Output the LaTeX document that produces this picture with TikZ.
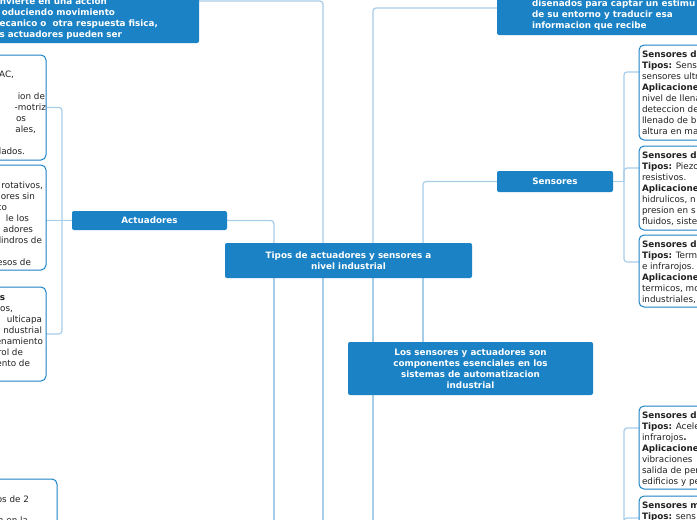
\documentclass[tikz,border=0pt]{standalone}
\usepackage{fontspec}
\setmainfont{DejaVu Sans}
\usetikzlibrary{backgrounds}
\definecolor{mmblue}{HTML}{1B82C6}
\definecolor{mmline}{HTML}{A7CDE9}
\definecolor{txt}{HTML}{222222}
\newcommand\mmfs{\fontsize{8.8}{11}\selectfont}
\begin{document}
\begin{tikzpicture}[x=1pt,y=-1pt,
  every node/.style={inner sep=0pt, outer sep=0pt},
  topic/.style={fill=mmblue, rounded corners=2pt, anchor=north west},
  leaf/.style={fill=white, draw=mmblue, line width=1pt, rounded corners=5pt, anchor=north west},
  conn/.style={draw=mmline, line width=1.2pt, rounded corners=3pt},
  wc/.style={text=white, font=\mmfs\bfseries, align=center},
  wl/.style={text=white, font=\mmfs\bfseries, anchor=base west},
  we/.style={text=white, font=\mmfs\bfseries, anchor=base east},
  lt/.style={text=txt, font=\mmfs, anchor=base west},
  le/.style={text=txt, font=\mmfs, anchor=base east}]
\useasboundingbox (0,0) rectangle (697,520);
\clip (0,0) rectangle (697,520);

% main topics
\node[topic, minimum width=247pt, minimum height=35pt] (c) at (225,243) {};
\node[wc] (ctext) at (c.center) {Tipos de actuadores y sensores a\\nivel industrial};
\node[topic, minimum width=259pt, minimum height=84pt] (tl) at (-60,-41) {};
\node[topic, minimum width=260pt, minimum height=54pt] (tr) at (497,-19) {};
\node[topic, minimum width=155pt, minimum height=19pt] (act) at (72,211) {};
\node[wc] (acttext) at (act.center) {Actuadores};
\node[topic, minimum width=116pt, minimum height=21pt] (sen) at (497,171) {};
\node[wc] (sentext) at (sen.center) {Sensores};
\node[topic, minimum width=245pt, minimum height=53pt] (los) at (348,342) {};
\node[wc] (lostext) at (los.center) {Los sensores y actuadores son\\componentes esenciales en los\\sistemas de automatizacion\\industrial};

% leaves right
\node[leaf, minimum width=120pt, minimum height=95pt] (r1) at (639,45) {};
\node[leaf, minimum width=120pt, minimum height=84pt] (r2) at (639,146) {};
\node[leaf, minimum width=120pt, minimum height=72pt] (r3) at (639,235) {};
\node[leaf, minimum width=120pt, minimum height=83pt] (r4) at (639,406) {};
\node[leaf, minimum width=120pt, minimum height=60pt] (r5) at (639,496) {};
% leaves left
\node[leaf, minimum width=106pt, minimum height=105pt] (L1) at (-60,55) {};
\node[leaf, minimum width=106pt, minimum height=105pt] (L2) at (-60,165) {};
\node[leaf, minimum width=106pt, minimum height=94pt] (L3) at (-60,287) {};
\node[leaf, minimum width=117pt, minimum height=60pt] (L4) at (-60,479) {};

% connectors
\coordinate (b274) at (274,530);
\coordinate (b323) at (323,530);
\coordinate (b373) at (373,530);
\coordinate (rs) at (624,181.5);
\coordinate (rs2) at (624,530);
\coordinate (ls) at (62,220.5);
\begin{scope}[on background layer]
\draw[conn] ([xshift=49pt]c.north west) |- (act.east);
\draw[conn] ([xshift=98pt]c.north west) |- (tl.east);
\draw[conn] ([xshift=148pt]c.north west) |- (tr.west);
\draw[conn] ([xshift=198pt]c.north west) |- (sen.west);
\draw[conn] ([xshift=198pt]c.south west) -- ([xshift=75pt]los.north west);
\draw[conn] ([xshift=49pt]c.south west) -- (b274);
\draw[conn] ([xshift=98pt]c.south west) -- (b323);
\draw[conn] ([xshift=148pt]c.south west) -- (b373);
\draw[conn] (sen.east) -- (rs);
\draw[conn] ([yshift=-27pt]r1.north west) -| (rs);
\draw[conn] ([yshift=-22pt]r2.north west) -| (rs);
\draw[conn] ([yshift=-27pt]r3.north west) -| (rs);
\draw[conn] ([yshift=-22pt]r4.north west) -| (rs2);
\draw[conn] ([yshift=-22pt]r5.north west) -| (rs2);
\draw[conn] (act.west) -- (ls);
\draw[conn] (L1.east) -| (ls);
\draw[conn] (L2.east |- ls) -- (ls);
\draw[conn] (L3.east) -| (ls);
\end{scope}

% top-left text
\node[we] (tl1) at (107,4) {nvierte en una accion};
\node[we] (tl2) at (115,15) {oduciendo movimiento};
\node[we] (tl3) at (158,26) {ecanico o\ \ otra respuesta fisica,};
\node[we] (tl4) at (122,37) {s actuadores pueden ser};
% top-right text
\node[wl] (tr1) at (532,6) {disenados para captar un estimu};
\node[wl] (tr2) at (532,17) {de su entorno y traducir esa};
\node[wl] (tr3) at (532,28) {informacion que recibe};

% right leaves text
\foreach \s [count=\i] in {{\textbf{Sensores d}}, {\textbf{Tipos:} Sens}, {sensores ultr}, {\textbf{Aplicacione}}, {nivel de llena}, {deteccion de}, {llenado de b}, {altura en ma}}
  \node[lt] (ra\i) at (642,{57.5+11*(\i-1)}) {\s};
\foreach \s [count=\i] in {{\textbf{Sensores d}}, {\textbf{Tipos:} Piezo}, {resistivos.}, {\textbf{Aplicacione}}, {hidrulicos, n}, {presion en s}, {fluidos, siste}}
  \node[lt] (rb\i) at (642,{158.5+11*(\i-1)}) {\s};
\foreach \s [count=\i] in {{\textbf{Sensores d}}, {\textbf{Tipos:} Term}, {e infrarojos.}, {\textbf{Aplicacione}}, {termicos, mo}, {industriales,}}
  \node[lt] (rc\i) at (642,{247+11*(\i-1)}) {\s};
\foreach \s [count=\i] in {{\textbf{Sensores d}}, {\textbf{Tipos:} Acele}, {infrarojos\textbf{.}}, {\textbf{Aplicacione}}, {vibraciones}, {salida de per}, {edificios y pe}}
  \node[lt] (rd\i) at (642,{418+11*(\i-1)}) {\s};
\foreach \s [count=\i] in {{\textbf{Sensores m}}, {\textbf{Tipos:} sens}}
  \node[lt] (re\i) at (642,{508+11*(\i-1)}) {\s};

% left leaves text
\node[le] (la1) at (14,77) {AC,};
\node[le] (la2) at (45,99) {ion de};
\node[le] (la3) at (46,110) {-motriz};
\node[le] (la4) at (26,121) {os};
\node[le] (la5) at (36,132) {ales,};
\node[le] (la6) at (25,154) {lados.};

\node[le] (lb1) at (43,188) {rotativos,};
\node[le] (lb2) at (35,199) {ores sin};
\node[le] (lb3) at (7,210) {co};
\node[le] (lb4) at (29,221) {le los};
\node[le] (lb5) at (33,232) {adores};
\node[le] (lb6) at (42,243) {lindros de};
\node[le] (lb7) at (31,265) {esos de};

\node[le] (lc1) at (5,300) {\textbf{s}};
\node[le] (lc2) at (13,311) {os,};
\node[le] (lc3) at (42,322) {ulticapa};
\node[le] (lc4) at (42,333) {ndustrial};
\node[le] (lc5) at (43,344) {enamiento};
\node[le] (lc6) at (23,355) {rol de};
\node[le] (lc7) at (30,366) {ento de};

\node[le] (ld1) at (29,502) {os de 2};
\node[le] (ld2) at (28,523) {n en la};
\end{tikzpicture}
\end{document}
